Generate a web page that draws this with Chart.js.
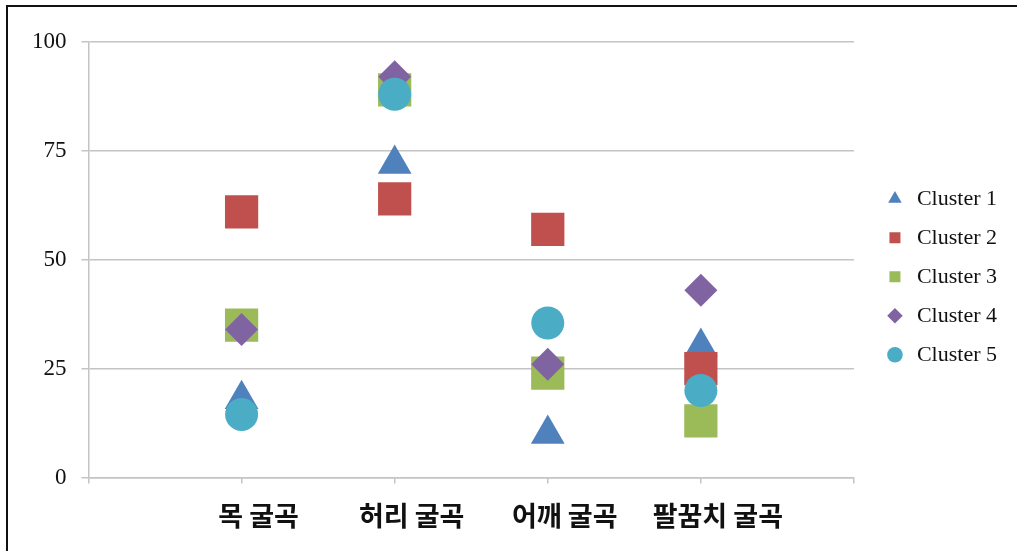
<!DOCTYPE html>
<html lang="ko">
<head>
<meta charset="utf-8">
<title>Cluster</title>
<script src="https://cdn.jsdelivr.net/npm/chart.js@4.4.1/dist/chart.umd.min.js"></script>
<style>
  html, body { margin: 0; padding: 0; background: #fff; overflow: hidden; }
  .chart-holder { position: relative; width: 1017px; height: 551px; }
  .frame {
    position: absolute; left: 6px; top: 5px; right: 0; height: 600px;
    border-top: 2px solid #111; border-left: 2px solid #111;
    pointer-events: none;
  }
</style>
</head>
<body>
<div class="chart-holder">
  <canvas id="chart" width="1017" height="551"></canvas>
  <div class="frame"></div>
</div>
<script>
  const categories = ['목 굴곡', '허리 굴곡', '어깨 굴곡', '팔꿈치 굴곡'];
  const yTicks = [0, 25, 50, 75, 100];

  const cluster1 = [18, 72, 10, 30];
  const cluster2 = [61, 64, 57, 25];
  const cluster3 = [35, 89, 24, 13];
  const cluster4 = [34, 92, 26, 43];
  const cluster5 = [14.5, 88, 35.5, 20];

  const GRID = '#c4c4c4';
  const SERIF = "'Liberation Serif', 'Times New Roman', serif";

  const toPoints = (values) => values.map((y, i) => ({ x: i + 1, y }));

  const series = [
    { label: 'Cluster 1', data: cluster1, color: '#4f81bd', style: 'triangle', radius: 19.5 },
    { label: 'Cluster 2', data: cluster2, color: '#c0504d', style: 'rect', radius: 23.5 },
    { label: 'Cluster 3', data: cluster3, color: '#9bbb59', style: 'rect', radius: 23.5 },
    { label: 'Cluster 4', data: cluster4, color: '#8064a2', style: 'rectRot', radius: 16.5 },
    { label: 'Cluster 5', data: cluster5, color: '#4bacc6', style: 'circle', radius: 16.5 },
  ];

  // later clusters sit on top of earlier ones
  const datasets = series.map((s, i) => ({
    label: s.label,
    data: toPoints(s.data),
    backgroundColor: s.color,
    borderColor: s.color,
    borderWidth: 0,
    pointStyle: s.style,
    pointRadius: s.radius,
    pointHoverRadius: s.radius,
    order: series.length - i,
  }));

  new Chart(document.getElementById('chart'), {
    type: 'scatter',
    data: { datasets },
    options: {
      responsive: false,
      animation: false,
      devicePixelRatio: 1,
      layout: { padding: { left: 17, top: 42, right: 10, bottom: 3 } },
      plugins: {
        tooltip: { enabled: false },
        legend: {
          position: 'right',
          align: 'center',
          fullSize: false,
          // empty title only pushes the entries down a little
          title: { display: true, text: '', padding: { top: 4, bottom: 0 }, font: { size: 25 } },
          labels: {
            usePointStyle: true,
            boxHeight: 11,
            padding: 17,
            color: '#111',
            font: { family: SERIF, size: 22 },
            sort: (a, b) => a.datasetIndex - b.datasetIndex,
          },
        },
      },
      scales: {
        x: {
          type: 'linear',
          min: 0,
          max: 5,
          afterBuildTicks: (scale) => {
            scale.ticks = [0, 1, 2, 3, 4, 5].map((value) => ({ value }));
          },
          ticks: {
            autoSkip: false,
            maxRotation: 0,
            labelOffset: 17,
            padding: 16,
            color: '#111',
            font: { family: "'Noto Sans CJK KR', sans-serif", size: 27, weight: 'bold' },
            callback: (value) => categories[value - 1] || '',
          },
          grid: { drawOnChartArea: false, tickLength: 6, color: GRID, lineWidth: 1.5 },
          border: { color: GRID, width: 1.5 },
        },
        y: {
          min: 0,
          max: 100,
          afterBuildTicks: (scale) => {
            scale.ticks = yTicks.map((value) => ({ value }));
          },
          ticks: {
            padding: 15,
            color: '#111',
            font: { family: SERIF, size: 23 },
          },
          grid: { tickLength: 7, color: GRID, lineWidth: 1.5 },
          border: { color: GRID, width: 1.5 },
        },
        gap: {
          type: 'linear',
          position: 'right',
          display: true,
          grid: { display: false },
          ticks: { display: false },
          border: { display: false },
          afterFit: (scale) => {
            scale.width = 13;
          },
        },
      },
    },
  });
</script>
</body>
</html>
